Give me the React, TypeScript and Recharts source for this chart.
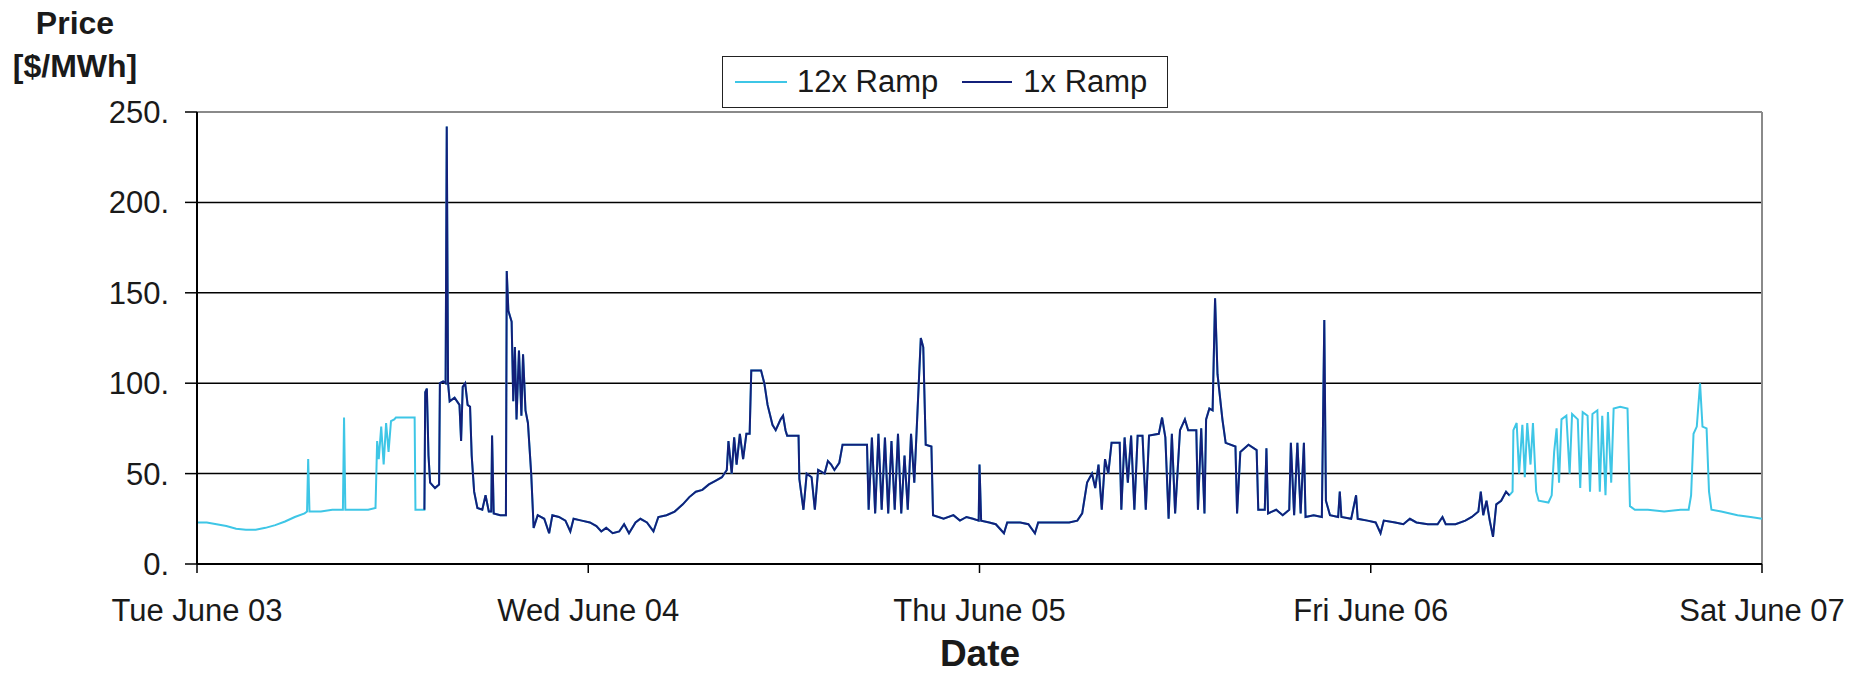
import { LineChart, Line, XAxis, YAxis, CartesianGrid, ReferenceLine } from 'recharts'

// hours since Tue June 03 00:00, price in $/MWh
const dayTicks = [0, 24, 48, 72, 96]
const dayLabels = ['Tue June 03', 'Wed June 04', 'Thu June 05', 'Fri June 06', 'Sat June 07']
const priceTicks = [0, 50, 100, 150, 200, 250]

// 12x only part, Tuesday morning
const ramp12Start: [number, number][] = [
  [0, 23], [0.6, 23], [1.2, 22], [1.8, 21], [2.4, 19.5], [3, 19], [3.6, 19], [4.2, 20], [4.8, 21.5],
  [5.4, 23.5], [6, 26], [6.6, 28], [6.75, 29], [6.82, 58], [6.9, 29], [7.6, 29], [8.3, 30], [8.95, 30],
  [9.02, 81], [9.1, 30], [9.8, 30], [10.5, 30], [10.95, 31], [11.05, 68], [11.15, 58], [11.3, 76],
  [11.45, 55], [11.6, 78], [11.75, 62], [11.9, 79], [12.1, 80], [12.2, 81], [13.35, 81], [13.4, 30],
  [13.95, 30],
]

// where both runs are drawn, the 1x line lies on top
const ramp1Prices: [number, number][] = [
  [13.95, 30], [14.0, 95], [14.1, 97], [14.2, 60], [14.3, 45], [14.6, 42], [14.85, 44], [14.9, 100],
  [15.1, 101], [15.25, 100], [15.32, 242], [15.4, 100], [15.5, 90], [15.8, 92], [16.1, 88], [16.2, 68],
  [16.3, 98], [16.45, 100], [16.6, 88], [16.75, 87], [16.85, 60], [17.0, 40], [17.2, 31], [17.5, 30],
  [17.7, 38], [17.9, 29], [18.05, 29], [18.1, 71], [18.2, 28], [18.6, 27], [18.95, 27], [19.0, 162],
  [19.1, 140], [19.3, 134], [19.4, 90], [19.5, 120], [19.6, 80], [19.75, 118], [19.9, 82], [20.0, 116],
  [20.15, 85], [20.3, 78], [20.5, 50], [20.65, 20], [20.9, 27], [21.3, 25], [21.6, 17], [21.8, 27],
  [22.2, 26], [22.6, 24], [22.9, 18], [23.1, 25], [23.6, 24], [24.1, 23], [24.5, 21], [24.8, 18],
  [25.1, 20], [25.5, 17], [25.9, 18], [26.2, 22], [26.5, 17], [26.9, 23], [27.2, 25], [27.6, 23],
  [28, 18], [28.3, 26], [28.8, 27], [29.3, 29], [29.8, 33], [30.2, 37], [30.6, 40], [31, 41], [31.4, 44],
  [31.8, 46], [32.2, 48], [32.5, 52], [32.6, 68], [32.8, 50], [32.95, 70], [33.1, 55], [33.3, 72],
  [33.5, 58], [33.7, 72], [33.9, 72], [34.0, 107], [34.6, 107], [34.8, 100], [35.0, 88], [35.3, 77],
  [35.5, 74], [35.8, 80], [35.95, 82], [36.1, 74], [36.2, 71], [36.9, 71], [36.95, 47], [37.2, 30],
  [37.4, 50], [37.7, 48], [37.9, 30], [38.1, 52], [38.5, 50], [38.7, 57], [38.9, 55], [39.1, 52],
  [39.4, 56], [39.6, 66], [41.1, 66], [41.2, 30], [41.4, 70], [41.6, 28], [41.8, 72], [42.0, 30],
  [42.2, 70], [42.4, 28], [42.6, 68], [42.8, 30], [43.0, 72], [43.2, 28], [43.4, 60], [43.6, 30],
  [43.8, 72], [44.0, 45], [44.2, 85], [44.4, 125], [44.55, 120], [44.7, 66], [45.05, 65], [45.15, 27],
  [45.8, 25], [46.4, 27], [46.8, 24], [47.2, 26], [47.6, 25], [47.95, 24], [48.0, 55], [48.1, 24],
  [48.6, 23], [49, 22], [49.5, 17], [49.7, 23], [50.5, 23], [51, 22], [51.4, 17], [51.6, 23], [53.5, 23],
  [54, 24], [54.3, 28], [54.6, 45], [54.9, 50], [55.1, 42], [55.3, 55], [55.5, 30], [55.7, 58],
  [55.9, 50], [56.1, 67], [56.6, 67], [56.7, 30], [56.9, 70], [57.1, 45], [57.3, 71], [57.5, 30],
  [57.7, 71], [58.0, 71], [58.2, 30], [58.4, 71], [59.0, 72], [59.2, 81], [59.4, 70], [59.6, 25],
  [59.8, 72], [60.0, 28], [60.3, 74], [60.6, 80], [60.8, 74], [61.3, 74], [61.4, 30], [61.6, 75],
  [61.8, 28], [61.9, 80], [62.1, 86], [62.3, 85], [62.45, 147], [62.6, 105], [62.9, 80], [63.1, 67],
  [63.7, 65], [63.8, 28], [64.0, 62], [64.5, 66], [65, 63], [65.1, 30], [65.5, 30], [65.6, 64],
  [65.7, 28], [66.2, 30], [66.6, 27], [67.0, 30], [67.1, 67], [67.3, 27], [67.5, 67], [67.7, 28],
  [67.9, 67], [68.0, 26], [68.5, 27], [69.0, 26], [69.15, 135], [69.25, 35], [69.5, 27], [70.0, 26],
  [70.1, 40], [70.2, 26], [70.8, 25], [71.1, 38], [71.2, 25], [71.8, 24], [72.3, 23], [72.6, 17],
  [72.8, 24], [73.5, 23], [74, 22], [74.4, 25], [74.8, 23], [75.5, 22], [76.1, 22], [76.4, 26],
  [76.6, 22], [77.2, 22], [77.8, 24], [78.2, 26], [78.6, 29], [78.75, 40], [78.9, 27], [79.1, 35],
  [79.3, 24], [79.5, 15], [79.7, 33], [80, 35], [80.3, 40], [80.5, 38],
]

// 12x only part, Friday
const ramp12End: [number, number][] = [
  [80.5, 38], [80.7, 40], [80.75, 74], [80.95, 78], [81.1, 50], [81.3, 77], [81.45, 48], [81.6, 78],
  [81.8, 55], [81.95, 78], [82.15, 40], [82.3, 35], [82.9, 34], [83.1, 38], [83.25, 62], [83.4, 75],
  [83.55, 45], [83.7, 80], [84.0, 82], [84.2, 50], [84.35, 83], [84.7, 80], [84.85, 42], [85.0, 84],
  [85.3, 82], [85.45, 40], [85.6, 83], [85.9, 85], [86.05, 40], [86.2, 82], [86.4, 38], [86.55, 84],
  [86.75, 45], [86.9, 86], [87.3, 87], [87.75, 86], [87.9, 32], [88.2, 30], [89, 30], [90, 29], [91, 30],
  [91.5, 30], [91.65, 38], [91.8, 72], [92.0, 76], [92.2, 100], [92.35, 76], [92.6, 75], [92.75, 40],
  [92.9, 30], [93.5, 29], [94.5, 27], [95.3, 26], [96, 25],
]

const toRows = (pts: [number, number][]) => pts.map(([h, p]) => ({ h, p }))
const ramp12Data = toRows([...ramp12Start, ...ramp1Prices, ...ramp12End])
const ramp1Data = toRows(ramp1Prices)

const FONT = '"Liberation Sans", Arial, sans-serif'
const CYAN = '#3ec6e6'
const NAVY = '#13207a'

export default function App() {
  return (
    <div style={{ position: 'absolute', left: 0, top: 0, width: 1868, height: 676, background: '#fff', fontFamily: FONT, color: '#1a1a1a' }}>
      <LineChart width={1868} height={676} margin={{ top: 112, right: 106, bottom: 0, left: 0 }}>
        <CartesianGrid vertical={false} stroke="#000" strokeWidth={1.5} />
        <XAxis
          dataKey="h"
          type="number"
          domain={[0, 96]}
          ticks={dayTicks}
          interval={0}
          allowDuplicatedCategory={false}
          tickFormatter={(v) => dayLabels[dayTicks.indexOf(v)] ?? ''}
          height={112}
          tickSize={9}
          tickMargin={26}
          axisLine={{ stroke: '#000', strokeWidth: 2 }}
          tickLine={{ stroke: '#000', strokeWidth: 1.5 }}
          tick={{ fontSize: 31, fill: '#1a1a1a', fontFamily: FONT }}
        />
        <YAxis
          type="number"
          domain={[0, 250]}
          ticks={priceTicks}
          interval={0}
          tickFormatter={(v) => `${v}.`}
          width={197}
          tickSize={12}
          tickMargin={16}
          axisLine={{ stroke: '#000', strokeWidth: 2 }}
          tickLine={{ stroke: '#000', strokeWidth: 1.5 }}
          tick={{ fontSize: 31, fill: '#1a1a1a', fontFamily: FONT }}
        />
        <ReferenceLine y={250} stroke="#8a8a8a" strokeWidth={2} />
        <ReferenceLine x={96} stroke="#8a8a8a" strokeWidth={2} />
        <Line data={ramp12Data} dataKey="p" name="12x Ramp" type="linear" stroke={CYAN} strokeWidth={2} dot={false} isAnimationActive={false} />
        <Line data={ramp1Data} dataKey="p" name="1x Ramp" type="linear" stroke={NAVY} strokeWidth={2} dot={false} isAnimationActive={false} />
      </LineChart>

      <div style={{ position: 'absolute', left: 0, top: 2, width: 150, textAlign: 'center', fontWeight: 'bold', fontSize: 32, lineHeight: '43px' }}>
        Price<br />[$/MWh]
      </div>

      <div style={{ position: 'absolute', left: 722, top: 56, width: 446, height: 52, boxSizing: 'border-box', border: '1.5px solid #222', display: 'flex', alignItems: 'center', paddingLeft: 12, fontSize: 31, background: '#fff' }}>
        <span style={{ width: 52, height: 2, background: CYAN, marginRight: 10 }} />
        <span>12x Ramp</span>
        <span style={{ width: 50, height: 2, background: NAVY, marginLeft: 24, marginRight: 11 }} />
        <span>1x Ramp</span>
      </div>

      <div style={{ position: 'absolute', left: 880, top: 634, width: 200, textAlign: 'center', fontWeight: 'bold', fontSize: 37, lineHeight: '40px' }}>
        Date
      </div>
    </div>
  )
}
